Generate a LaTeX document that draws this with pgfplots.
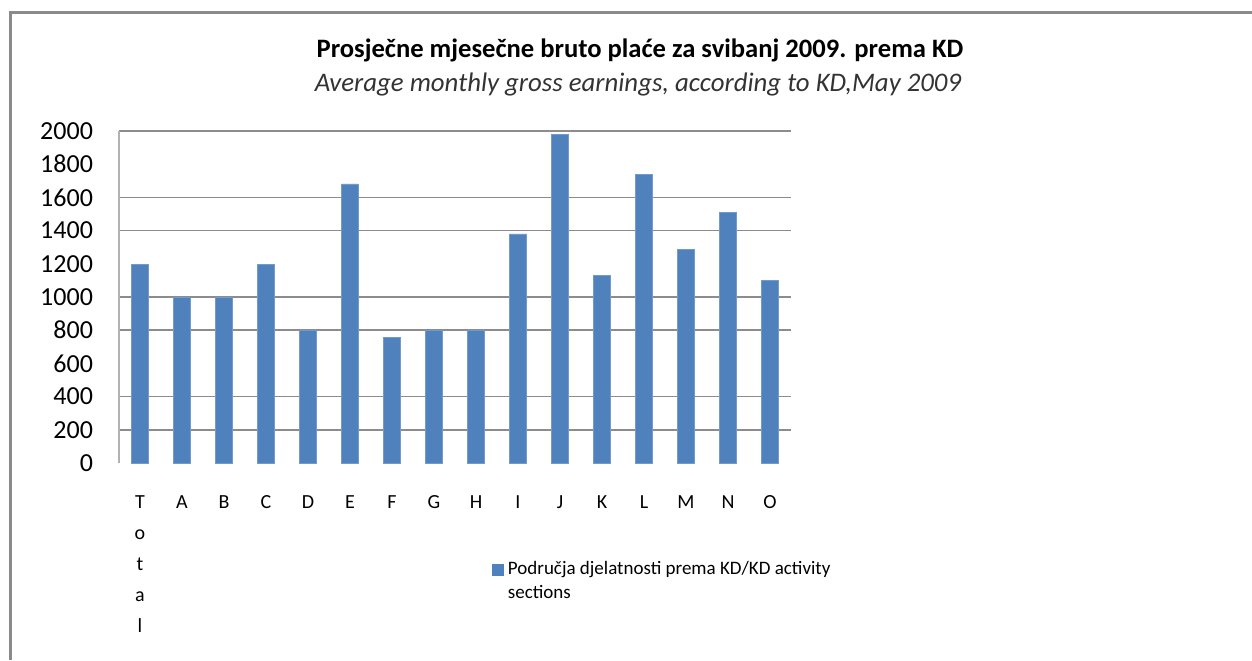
\documentclass[border=0pt]{standalone}
\usepackage{pgfplots}
\pgfplotsset{compat=1.18}
\usepackage{fontspec}
\setmainfont{Carlito}
\definecolor{barblue}{HTML}{4F81BD}
\definecolor{gridgray}{HTML}{8C8C8C}
\definecolor{framegray}{HTML}{8A8A8A}
\begin{document}
\begin{tikzpicture}[x=0.5pt,y=0.5pt]
\path[use as bounding box] (0,0) rectangle (1252,660);
\draw[framegray, line width=1.1pt] (10.5,0) -- (10.5,647.5) -- (1252,647.5);
\node[font=\fontsize{13.3}{16}\selectfont\bfseries] at (640,610) {Prosječne mjesečne bruto plaće za svibanj 2009. prema KD};
\node[font=\fontsize{13.4}{16}\selectfont\itshape, text=black!80] at (638,576) {Average monthly gross earnings, according to KD,May 2009};
\coordinate (axpos) at (119,197);
\begin{axis}[
  at={(axpos)}, anchor=south west,
  scale only axis, width=336pt, height=166pt,
  xmin=-0.5, xmax=15.5, ymin=0, ymax=2000,
  axis lines*=left,
  x axis line style={draw=none},
  y axis line style={draw=black!30, line width=0.8pt},
  major tick length=0pt,
  ytick={200,400,800,1000,1400,1600,2000},
  extra y ticks={0,600,1200,1800},
  extra y tick style={grid=none},
  ymajorgrids,
  major grid style={gridgray, line width=0.8pt},
  yticklabel style={font=\fontsize{13}{15}\selectfont, xshift=-9.5pt},
  /pgf/number format/assume math mode=true,
  /pgf/number format/set thousands separator={},
  xtick=data,
  xticklabels={{\strut T\\o\\t\\a\\l},\strut A,\strut B,\strut C,\strut D,\strut E,\strut F,\strut G,\strut H,\strut I,\strut J,\strut K,\strut L,\strut M,\strut N,\strut O},
  xticklabel style={font=\fontsize{10}{15.5}\selectfont, align=center, anchor=north, yshift=-8.5pt},
  ybar, bar width=8.3pt,
  legend style={at={(rel axis cs:0.555,-0.283)}, anchor=north west, draw=none, fill=none,
    font=\fontsize{9.5}{12}\selectfont, cells={align=left}, inner sep=0pt},
  legend image code/.code={\fill[barblue] (0pt,3.2pt) rectangle (5.4pt,8.6pt);},
]
\addplot[fill=barblue, draw=barblue!80!white] coordinates {
(0,1195) (1,995) (2,995) (3,1195) (4,800) (5,1681) (6,757) (7,800)
(8,797) (9,1380) (10,1980) (11,1128) (12,1739) (13,1289) (14,1508) (15,1102)
};
\addlegendentry{Područja djelatnosti prema KD/KD activity\\sections}
\end{axis}
\end{tikzpicture}
\end{document}
